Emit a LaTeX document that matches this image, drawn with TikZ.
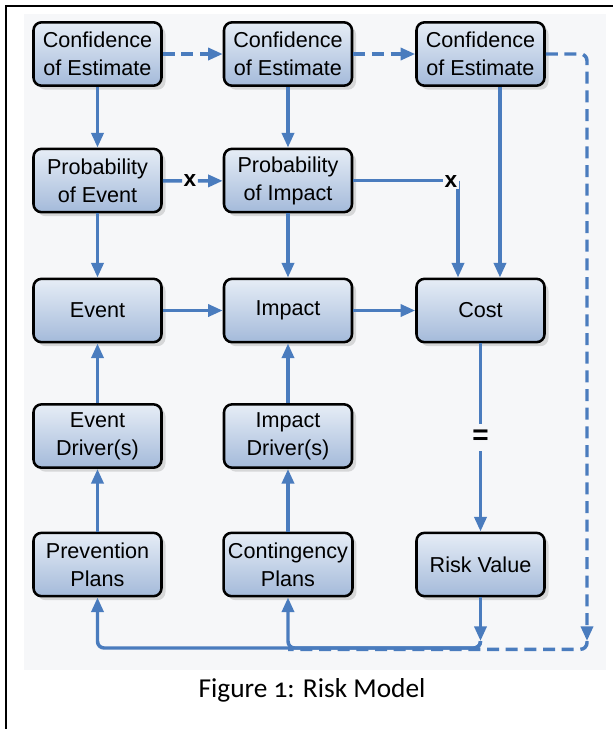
\documentclass[tikz,border=0pt]{standalone}
\usepackage{fontspec}
\setmainfont{Liberation Sans}
\newfontfamily\captionfont[Numbers=OldStyle]{Carlito}
\usetikzlibrary{arrows.meta,shadows}
\definecolor{flujo}{RGB}{74,124,190}
\definecolor{cajaarriba}{RGB}{230,237,246}
\definecolor{cajaabajo}{RGB}{164,186,218}
\definecolor{fondo}{RGB}{246,247,249}
\begin{document}
\begin{tikzpicture}[x=0.75pt,y=-0.75pt,
    caja/.style={draw=black, line width=1.9pt, rounded corners=6pt,
        top color=cajaarriba, bottom color=cajaabajo,
        minimum width=96pt, minimum height=47.5pt, align=center,
        font=\fontsize{16.2}{21}\selectfont,
        drop shadow={shadow xshift=3pt, shadow yshift=-3pt, opacity=0.13, fill=black}},
    linea/.style={draw=flujo, line width=2.6pt},
    flecha/.style={linea, -{Triangle[length=11pt,width=9pt]}},
    discontinua/.style={flecha, dash pattern=on 9pt off 5pt},
    signo/.style={fill=fondo, inner sep=1pt, font=\bfseries\fontsize{17}{17}\selectfont}]
    \useasboundingbox (0,0) rectangle (613,729);
    % Marco y fondo
    \fill[fondo] (24,14) rectangle (606,670);
    \draw[line width=1.5pt] (6,729) -- (6,6) -- (613,6);
    % Fila 1: confianza de la estimacion
    \node[caja] (conf1) at (97.5,54) {Confidence\\of Estimate};
    \node[caja] (conf2) at (288,54) {Confidence\\of Estimate};
    \node[caja] (conf3) at (480.5,54) {Confidence\\of Estimate};
    % Fila 2: probabilidades
    \node[caja] (probev) at (97.5,180.5) {Probability\\of Event};
    \node[caja] (probimp) at (288,180.5) {Probability\\of Impact};
    % Fila 3
    \node[caja] (evento) at (97.5,310.5) {Event};
    \node[caja] (impacto) at (288,310.5) {Impact};
    \node[caja] (costo) at (480.5,310.5) {Cost};
    % Fila 4: factores
    \node[caja] (evdriver) at (97.5,436) {Event\\Driver(s)};
    \node[caja] (impdriver) at (288,436) {Impact\\Driver(s)};
    % Fila 5: planes y valor
    \node[caja] (prevencion) at (97.5,564.5) {Prevention\\Plans};
    \node[caja] (contingencia) at (288,564.5) {Contingency\\Plans};
    \node[caja] (riesgo) at (480.5,564.5) {Risk Value};
    % Puntos auxiliares
    \coordinate (esquina) at (458,180.5);
    \coordinate (puntaflecha) at (0,641);
    \coordinate (abajo) at (0,648);
    \coordinate (derecha) at (587,0);
    % Flechas verticales
    \draw[flecha] (conf1) -- (probev);
    \draw[flecha] (conf2) -- (probimp);
    \draw[flecha] ([xshift=14.6pt]conf3.south) -- ([xshift=14.6pt]costo.north);
    \draw[flecha] (probev) -- (evento);
    \draw[flecha] (probimp) -- (impacto);
    \draw[flecha] (evdriver) -- (evento);
    \draw[flecha] (impdriver) -- (impacto);
    \draw[flecha] (prevencion) -- (evdriver);
    \draw[flecha] (contingencia) -- (impdriver);
    % Flechas horizontales
    \draw[flecha] (evento) -- (impacto);
    \draw[flecha] (impacto) -- (costo);
    % Productos
    \node[signo] (por1) at (190,181) {x};
    \draw[linea] (probev) -- (por1);
    \draw[flecha] (por1) -- (probimp);
    \draw[linea] (probimp.east) -- (esquina);
    \draw[flecha] (esquina) -- (esquina |- costo.north);
    \node[signo] (por2) at (451,182) {x};
    % Costo igual a valor de riesgo
    \draw[flecha] (costo) -- node[signo, inner sep=5pt, font=\bfseries\fontsize{21}{21}\selectfont] (igual) {=} (riesgo);
    % Retorno hacia los planes
    \draw[flecha] (riesgo.south) -- (riesgo.south |- puntaflecha);
    \draw[flecha, rounded corners=5pt] (riesgo.south |- puntaflecha) |- (contingencia.south |- abajo) -- (contingencia.south);
    \draw[flecha, rounded corners=5pt] (riesgo.south |- puntaflecha) |- (prevencion.south |- abajo) -- (prevencion.south);
    % Lineas discontinuas
    \draw[discontinua] (conf1) -- (conf2);
    \draw[discontinua] (conf2) -- (conf3);
    \draw[discontinua, rounded corners=5pt] (conf3.east) -| (derecha |- puntaflecha);
    \draw[linea, dash pattern=on 9pt off 5pt, rounded corners=5pt] (derecha |- puntaflecha) |- ([yshift=-1pt]contingencia.south |- abajo);
    % Titulo
    \node[font=\captionfont\fontsize{20.5}{20.5}\selectfont] (titulo) at (312,690) {Figure 1: Risk Model};
\end{tikzpicture}
\end{document}
